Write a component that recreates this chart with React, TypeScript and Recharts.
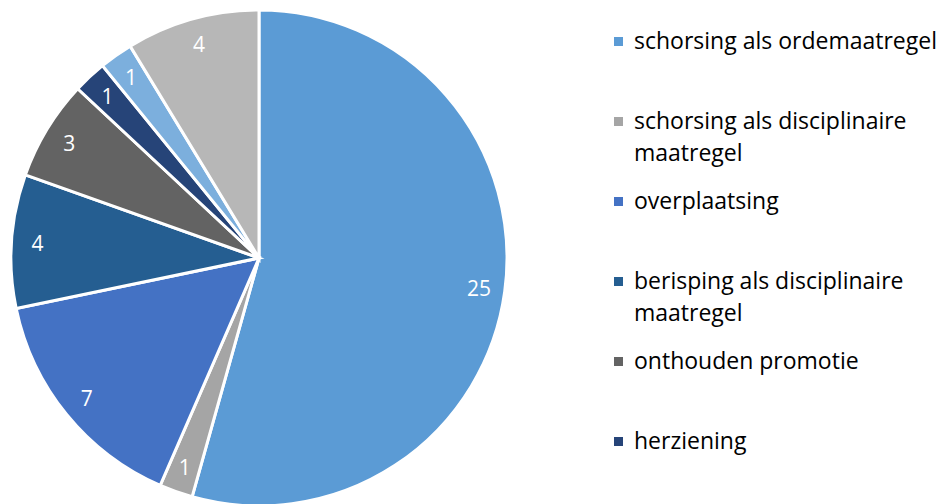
import React from 'react';
import { PieChart, Pie, Cell, Legend } from 'recharts';

const categories = [
  'schorsing als ordemaatregel',
  'schorsing als disciplinaire maatregel',
  'overplaatsing',
  'berisping als disciplinaire maatregel',
  'onthouden promotie',
  'herziening',
  'ontslag',
  'overige',
];
const counts = [25, 1, 7, 4, 3, 1, 1, 4];
const colors = ['#5B9BD5', '#A5A5A5', '#4472C4', '#255E91', '#636363', '#264478', '#7CAFDD', '#B7B7B7'];
const visibleLegendItems = 6;

const data = categories.map((name, i) => ({ name, value: counts[i] }));

const RAD = Math.PI / 180;
const FONT = '"Open Sans", "Noto Sans", sans-serif';

const renderLabel = (props: any) => {
  const { cx, cy, midAngle, outerRadius, value } = props;
  const r = outerRadius * 0.895;
  const x = cx + r * Math.cos(-midAngle * RAD);
  const y = cy + r * Math.sin(-midAngle * RAD);
  return (
    <text x={x} y={y} fill="#FFFFFF" textAnchor="middle" dominantBaseline="central" fontSize={21} fontFamily={FONT}>
      {value}
    </text>
  );
};

const renderLegend = () => {
  const items = categories.slice(0, visibleLegendItems);
  return (
    <div style={{ fontFamily: FONT, fontSize: 23, lineHeight: '32px', color: '#000' }}>
      {items.map((name, i) => (
        <div key={name} style={{ position: 'relative', height: 80, paddingLeft: 20, width: 307 }}>
          <span
            style={{
              position: 'absolute',
              left: 0,
              top: 13,
              width: 9,
              height: 9,
              background: colors[i],
            }}
          />
          <span>{name}</span>
        </div>
      ))}
    </div>
  );
};

export default function App() {
  return (
    <div style={{ position: 'absolute', left: 0, top: 0, width: 941, height: 504, background: '#fff' }}>
      <PieChart width={941} height={504} margin={{ top: 0, right: 0, bottom: 0, left: 0 }}>
        <Pie
          data={data}
          dataKey="value"
          nameKey="name"
          cx={259}
          cy={258}
          outerRadius={248}
          startAngle={90}
          endAngle={-270}
          stroke="#FFFFFF"
          strokeWidth={3}
          label={renderLabel}
          labelLine={false}
          isAnimationActive={false}
        >
          {data.map((d, i) => (
            <Cell key={d.name} fill={colors[i]} />
          ))}
        </Pie>
        <Legend
          layout="vertical"
          content={renderLegend}
          wrapperStyle={{ position: 'absolute', left: 614, top: 24, width: 327 }}
        />
      </PieChart>
    </div>
  );
}
